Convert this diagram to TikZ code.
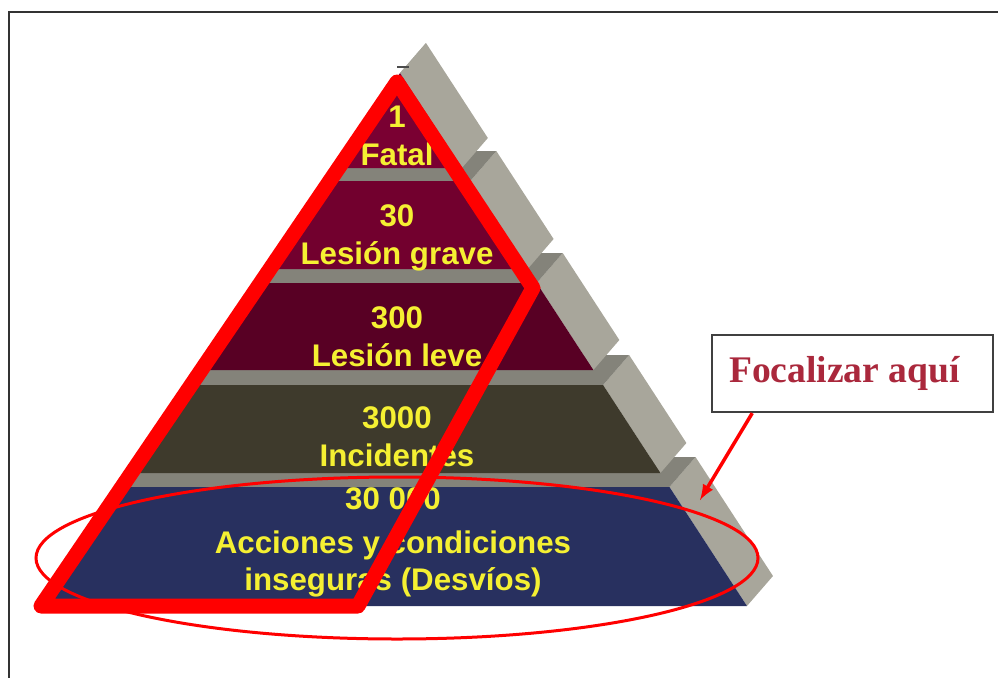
\documentclass[tikz,border=0pt]{standalone}
\usepackage{fontspec}
\setmainfont{Liberation Sans}
\newfontfamily\boxfont{Liberation Serif}
\usepackage{tikz}
\usetikzlibrary{arrows,calc}
\definecolor{fatalred}{RGB}{122,0,50}
\definecolor{graverred}{RGB}{114,0,46}
\definecolor{levered}{RGB}{88,0,36}
\definecolor{incolive}{RGB}{62,58,44}
\definecolor{accnavy}{RGB}{40,48,95}
\definecolor{sidegray}{RGB}{168,166,155}
\definecolor{topgray}{RGB}{132,131,122}
\definecolor{layeryellow}{RGB}{245,240,50}
\definecolor{focusred}{RGB}{170,40,60}
\definecolor{markred}{RGB}{255,0,0}

\begin{document}
\begin{tikzpicture}[x=0.02cm,y=-0.02cm,
    declare function={xl(\t)=400-0.66*(\t-73); xr(\t)=400+0.651*(\t-73);},
    layertext/.style={text=layeryellow,font=\bfseries\fontsize{17.8}{21.5}\selectfont,align=center,inner sep=0pt},
    focusbox/.style={draw=black!75,line width=0.045cm,minimum width=5.62cm,minimum height=1.54cm,
        text=focusred,font=\boxfont\bfseries\fontsize{21.4}{25}\selectfont,inner sep=0pt},
    markline/.style={draw=markred,line width=0.3cm,line join=round},
    markring/.style={draw=markred,line width=0.06cm},
    focusarrow/.style={draw=markred,line width=0.07cm,-latex}]
			\useasboundingbox (0,0) rectangle (998,677);
			\draw[black!80,line width=0.05cm] (9,680) -- (9,12) -- (1001,12);
			\foreach \ya/\yb/\col in {487/606/accnavy,385/473/incolive,283/370/levered,181/269/graverred,73/168/fatalred}{
				\fill[sidegray] ({xr(\ya)},\ya) -- ({xr(\yb)},\yb) -- ++(26,-30) -- ({xr(\ya)+26},{\ya-30}) -- cycle;
				\fill[topgray] ({xl(\ya)},\ya) -- ({xr(\ya)},\ya) -- ({xr(\ya)+26},{\ya-30}) -- ({xl(\ya)+26},{\ya-30}) -- cycle;
				\fill[\col] ({xl(\ya)},\ya) -- ({xr(\ya)},\ya) -- ({xr(\yb)},\yb) -- ({xl(\yb)},\yb) -- cycle;
			}
			\draw[black!70,line width=0.04cm] (397,67) -- (409,67);
			\node[layertext] (fatal) at (397,136) {1\\Fatal};
			\node[layertext] (grave) at (397,238) {30\\Lesión grave};
			\node[layertext] (leve) at (397,336.5) {300\\Lesión leve};
			\node[layertext] (incid) at (397,436.5) {3000\\Incidentes};
			\node[layertext] (count) at (393,499) {30 000};
			\node[layertext] (desvios) at (393,564) {Acciones y condiciones\\inseguras (Desvíos)};
			\draw[markline] (397,82) -- (533,288) -- (358,606) -- (41,606) -- cycle;
			\draw[markring] (397,558) ellipse [x radius=361, y radius=81];
			\node[focusbox] (focus) at (852.5,373.5) {Focalizar aquí\hspace*{0.32cm}};
			\coordinate (tip) at (700,500);
			\draw[focusarrow] ($(focus.south west)!0.146!(focus.south east)$) -- (tip);
\end{tikzpicture}
\end{document}
